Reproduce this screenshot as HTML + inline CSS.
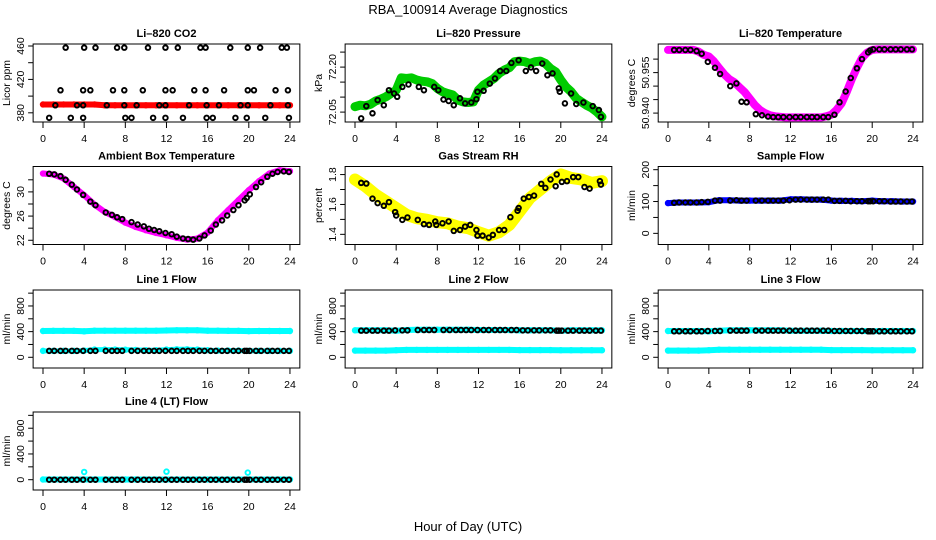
<!DOCTYPE html>
<html><head><meta charset="utf-8">
<style>
html,body{margin:0;padding:0;background:#fff;}
svg{display:block;font-family:"Liberation Sans",sans-serif;}
</style></head>
<body>
<svg id="chart" width="936" height="540" viewBox="0 0 936 540" xmlns="http://www.w3.org/2000/svg">
<text x="468" y="14" text-anchor="middle" font-size="13">RBA_100914  Average Diagnostics</text>
<text x="468" y="531" text-anchor="middle" font-size="13">Hour of Day (UTC)</text>
</svg>
<script>
// ---------- data ----------
const hourlyHours = [0,1,2,3,4,5,6,7,8,9,10,11,12,13,14,15,16,17,18,19,20,21,22,23,24];
const halfHours = [0,0.5,1,1.5,2,2.5,3,3.5,4,4.5,5,5.5,6,6.5,7,7.5,8,8.5,9,9.5,10,10.5,11,11.5,12,12.5,13,13.5,14,14.5,15,15.5,16,16.5,17,17.5,18,18.5,19,19.5,20,20.5,21,21.5,22,22.5,23,23.5,24];
const blackHours = [0.6,1.1,1.7,2.2,2.8,3.3,3.9,4.6,5.1,6.1,6.7,7.2,7.7,8.6,9.2,9.8,10.3,10.8,11.3,11.9,12.5,13.0,13.6,14.1,14.6,15.2,15.7,16.3,16.8,17.4,17.9,18.5,19.0,19.6,19.8,20.1,20.7,21.2,21.8,22.3,22.8,23.4,23.9];

const co2Red = [390,390,390,390,390,390,389,389,389,389,389,389,389,389,389,389,389,389,389,389,389,389,389,389,389];
const co2HighHours = [2.2,4.0,5.1,7.2,7.9,10.2,11.9,13.1,15.3,15.8,18.2,19.9,21.1,23.2,23.7];
const co2HighVals = [458,458,458,458,458,458,458,458,458,458,458,458,458,458,458];
const co2MidHours = [1.7,3.9,4.6,6.8,7.9,9.7,11.9,12.6,14.7,15.8,17.6,19.9,20.5,22.6,23.8];
const co2MidVals = [407,407,407,407,407,407,407,407,407,407,407,407,407,407,407];
const co2BaseHours = [1.2,3.3,3.9,6.2,7.9,9.1,11.3,11.9,14.2,15.9,17.1,19.2,19.9,22.1,23.8];
const co2BaseVals = [389,389,389,389,389,389,389,389,389,389,389,389,389,389,389];
const co2LowHours = [0.6,2.7,3.9,8.0,8.6,10.7,11.9,13.6,15.9,16.5,18.7,19.8,21.6,23.9];
const co2LowVals = [374,374,374,374,374,374,374,374,374,374,374,374,374,374];

const pressGreen = [72.068,72.073,72.071,72.076,72.087,72.093,72.101,72.112,72.123,72.164,72.162,72.164,72.157,72.153,72.151,72.145,72.129,72.118,72.112,72.107,72.090,72.084,72.082,72.084,72.123,72.140,72.151,72.162,72.179,72.190,72.198,72.218,72.220,72.218,72.212,72.218,72.220,72.212,72.195,72.184,72.157,72.134,72.118,72.096,72.084,72.073,72.064,72.051,72.034];
const pressBlackHours = [0.6,1.1,1.7,2.2,2.8,3.3,3.8,4.1,4.6,5.2,6.2,6.7,7.7,8.1,8.6,9.1,9.6,10.2,10.7,11.3,11.8,11.9,12.5,13.1,13.6,14.1,14.7,15.2,15.9,16.6,17.1,17.6,18.2,18.7,19.2,19.8,19.9,20.4,21.0,21.5,22.2,23.1,23.7,23.9];
const pressBlackVals = [72.029,72.070,72.046,72.090,72.073,72.123,72.112,72.101,72.134,72.142,72.134,72.123,72.134,72.123,72.092,72.087,72.073,72.096,72.079,72.082,72.093,72.118,72.121,72.145,72.162,72.187,72.187,72.214,72.223,72.187,72.199,72.187,72.212,72.173,72.179,72.129,72.118,72.079,72.112,72.077,72.082,72.070,72.057,72.034];

const tempMagenta = [50.9634,50.9634,50.9634,50.9634,50.9634,50.9634,50.9628,50.9616,50.9610,50.9592,50.9568,50.9544,50.9526,50.9514,50.9496,50.9478,50.9454,50.9430,50.9412,50.9400,50.9392,50.9388,50.9386,50.9384,50.9384,50.9384,50.9384,50.9384,50.9384,50.9384,50.9384,50.9388,50.9394,50.9412,50.9436,50.9478,50.9526,50.9568,50.9604,50.9624,50.9634,50.9636,50.9636,50.9636,50.9636,50.9636,50.9636,50.9636,50.9636];
const tempBlack = [50.9634,50.9634,50.9634,50.9634,50.9630,50.9620,50.9590,50.9568,50.9545,50.9500,50.9510,50.9442,50.9440,50.9396,50.9392,50.9387,50.9385,50.9385,50.9385,50.9385,50.9385,50.9385,50.9385,50.9385,50.9385,50.9385,50.9385,50.9394,50.9440,50.9480,50.9530,50.9566,50.9600,50.9625,50.9632,50.9636,50.9636,50.9636,50.9636,50.9636,50.9636,50.9636,50.9636];

const ambMagenta = [33.04,32.87,32.21,30.83,29.45,27.91,26.69,25.86,24.93,24.21,23.66,23.21,22.83,22.39,22.11,22.28,23.27,25.31,26.97,28.62,30.28,31.77,33.04,33.59,33.43];
const ambBlack = [33.0,32.9,32.6,32.0,31.2,30.4,29.5,28.4,27.8,26.6,26.2,25.8,25.5,25.0,24.6,24.3,23.9,23.7,23.5,23.2,23.0,22.6,22.3,22.2,22.1,22.3,22.8,23.6,24.6,25.3,26.1,27.0,27.8,28.6,29.0,29.6,30.8,31.6,32.5,33.0,33.3,33.4,33.3];

const rhYellow = [1.767,1.722,1.666,1.621,1.576,1.531,1.508,1.497,1.481,1.474,1.452,1.441,1.414,1.391,1.414,1.463,1.553,1.643,1.699,1.756,1.801,1.778,1.767,1.744,1.756];
const rhBlackHours = [0.6,1.1,1.7,2.2,2.8,3.3,3.9,4.0,4.6,5.1,6.1,6.7,7.2,7.8,7.9,8.5,9.1,9.6,10.2,10.7,11.2,11.8,11.9,12.4,13.0,13.4,14.0,14.5,15.1,15.8,15.9,16.4,16.9,17.4,18.1,18.5,19.0,19.5,19.6,20.1,20.6,21.2,21.7,22.3,22.8,23.8,23.9];
const rhBlackVals = [1.744,1.740,1.639,1.609,1.591,1.616,1.549,1.526,1.497,1.513,1.497,1.468,1.463,1.486,1.463,1.474,1.486,1.423,1.429,1.452,1.463,1.429,1.391,1.391,1.378,1.396,1.429,1.429,1.515,1.558,1.576,1.639,1.650,1.659,1.738,1.711,1.767,1.722,1.801,1.751,1.756,1.783,1.783,1.717,1.706,1.756,1.733];

const sampleBlue = [95,97,97,97,98,104,104,103,103,103,103,103,107,107,106,106,103,102,102,101,103,101,101,100,100];
const sampleBlack = [96,97,97,97,97,98,99,103,103,103,104,103,103,103,103,103,103,103,103,104,106,106,106,106,106,106,106,102,102,102,101,101,101,101,101,101,101,101,100,100,100,100,100];

const line1CyanTop = [410,412,412,412,405,415,415,415,415,415,415,415,418,420,420,420,415,415,412,412,408,410,410,410,410];
const line1CyanBot = [100,100,100,100,105,120,120,120,118,115,110,110,120,125,125,120,110,105,105,105,100,100,100,100,100];
const line1Black = [100,100,100,100,100,100,100,100,100,100,100,100,100,100,100,100,100,100,100,100,100,100,100,100,100,100,100,100,100,100,100,100,100,100,100,100,100,100,100,100,100,100,100];
const line2CyanTop = [420,420,420,420,415,425,430,430,430,430,430,430,425,425,425,425,420,420,420,420,415,420,420,420,420];
const line2CyanBot = [105,105,105,105,110,115,115,115,115,115,115,115,115,115,115,115,112,112,112,112,110,110,110,110,110];
const line2Black = [415,415,415,415,415,415,420,420,420,425,425,425,425,425,425,425,425,425,425,425,425,425,425,425,425,425,425,420,420,420,420,420,420,415,415,415,415,415,415,415,415,415,415];
const line3CyanTop = [410,410,410,410,405,415,420,420,420,420,420,420,415,415,415,415,410,410,410,410,405,410,410,410,410];
const line3CyanBot = [105,105,105,105,110,118,118,118,118,118,118,118,118,118,118,118,112,112,112,112,110,110,110,110,110];
const line3Black = [405,405,405,405,405,405,410,410,410,415,415,415,415,415,415,415,415,415,415,415,415,415,415,415,415,415,415,410,410,410,410,410,410,405,405,405,405,405,405,405,405,405,405];
const line4Cyan = [3,3,3,3,3,3,3,3,3,3,3,3,3,3,3,3,3,3,3,3,3,3,3,3,3];
const line4Black = [0,0,0,0,0,0,0,0,0,0,0,0,0,0,0,0,0,0,0,0,0,0,0,0,0,0,0,0,0,0,0,0,0,0,0,0,0,0,0,0,0,0,0];
const line4SpikeHours = [4.0,12.0,19.9];
const line4SpikeVals = [120,125,110];

const xTicks = [0,4,8,12,16,20,24];

// ---------- drawing ----------
const NS = "http://www.w3.org/2000/svg";
const svg = document.getElementById("chart");
const colX0 = [43,355,668], colK = [10.29,10.29,10.21];
const rowTop = [44,166.5,290,412], PH = 78;

function mk(tag, attrs, parent){
  const e = document.createElementNS(NS, tag);
  for (const k in attrs) e.setAttribute(k, attrs[k]);
  (parent||svg).appendChild(e);
  return e;
}

function panel(cfg){
  const g = mk("g", {});
  
  
  const x0 = colX0[cfg.col], k = colK[cfg.col], top = rowTop[cfg.row];
  const left = x0 - 0.04*24*k, right = x0 + 24*k + 0.04*24*k, bottom = top + PH;
  const xs = h => x0 + h*k;
  const ys = v => top + (cfg.ymax - v)/(cfg.ymax - cfg.ymin)*PH;

  const t = mk("text", {x:(left+right)/2, y: top-7, "text-anchor":"middle", "font-size":11, "font-weight":"bold"}, g);
  t.textContent = cfg.title;
  
  

  (cfg.bands||[]).forEach(b=>{
    const pts = b.h.map((h,i)=>xs(h).toFixed(1)+","+ys(b.v[i]).toFixed(1)).join(" ");
    const pl = mk("polyline", {points:pts, fill:"none", stroke:b.color, "stroke-width":b.w, "stroke-linejoin":"round", "stroke-linecap":"round"}, g);
    
    
    b.h.forEach((h,i)=>{
      const c = mk("circle", {cx:xs(h), cy:ys(b.v[i]), r:2.3, fill:"none", stroke:b.color, "stroke-width":1.8}, g);
      
      
    });
  });
  (cfg.pts||[]).forEach(s=>{
    s.h.forEach((h,i)=>{
      const c = mk("circle", {cx:xs(h), cy:ys(s.v[i]), r:2.3, fill:"none", stroke:s.color, "stroke-width":1.9}, g);
      
      
    });
  });

  const box = mk("rect", {x:left, y:top, width:right-left, height:PH, fill:"none", stroke:"#000", "stroke-width":1}, g);
  
  

  xTicks.forEach(v=>{
    const tk = mk("line", {x1:xs(v), x2:xs(v), y1:bottom, y2:bottom+6, stroke:"#000"}, g);
    
    
    const lb = mk("text", {x:xs(v), y:bottom+20, "text-anchor":"middle", "font-size":10.5}, g);
    lb.textContent = v;
    
    
  });
  cfg.ticks.forEach(v=>{
    const tk = mk("line", {x1:left-5, x2:left, y1:ys(v), y2:ys(v), stroke:"#000"}, g);
    
    
  });
  cfg.labels.forEach(v=>{
    const yy = ys(v), xx = left-12;
    const lb = mk("text", {x:xx, y:yy, "text-anchor":"middle", "dominant-baseline":"central", "font-size":10.5, transform:`rotate(-90 ${xx} ${yy})`}, g);
    lb.textContent = cfg.fmt ? v.toFixed(cfg.fmt) : v;
    
    
  });
  const ty = top + PH/2, tx = left-26;
  const yt = mk("text", {x:tx, y:ty, "text-anchor":"middle", "dominant-baseline":"central", "font-size":10.5, transform:`rotate(-90 ${tx} ${ty})`}, g);
  yt.textContent = cfg.ylab;
  
  
}

panel({name:"co2-panel", col:0,row:0,title:"Li\u2013820 CO2",ylab:"Licor ppm",ymax:462.4,ymin:369,
  ticks:[380,400,420,440,460],labels:[380,420,460],
  bands:[{name:"co2-red-series",h:hourlyHours,v:co2Red,color:"#ff0000",w:6}],
  pts:[{name:"co2-black-high",h:co2HighHours,v:co2HighVals,color:"#000"},{name:"co2-black-mid",h:co2MidHours,v:co2MidVals,color:"#000"},
       {name:"co2-black-base",h:co2BaseHours,v:co2BaseVals,color:"#000"},{name:"co2-black-low",h:co2LowHours,v:co2LowVals,color:"#000"}]});
panel({name:"pressure-panel", col:1,row:0,title:"Li\u2013820 Pressure",ylab:"kPa",ymax:72.277,ymin:72.017,fmt:2,
  ticks:[72.05,72.10,72.15,72.20,72.25],labels:[72.05,72.20],
  bands:[{name:"pressure-green-series",h:halfHours,v:pressGreen,color:"#00cc00",w:9}],
  pts:[{name:"pressure-black-point",h:pressBlackHours,v:pressBlackVals,color:"#000"}]});
panel({name:"temperature-panel", col:2,row:0,title:"Li\u2013820 Temperature",ylab:"degrees C",ymax:50.9656,ymin:50.9367,fmt:3,
  ticks:[50.940,50.945,50.950,50.955,50.960],labels:[50.940,50.955],
  bands:[{name:"temperature-magenta-series",h:halfHours,v:tempMagenta,color:"#ff00ff",w:8}],
  pts:[{name:"temperature-black-point",h:blackHours,v:tempBlack,color:"#000"}]});
panel({name:"ambient-panel", col:0,row:1,title:"Ambient Box Temperature",ylab:"degrees C",ymax:34.2,ymin:21.3,
  ticks:[22,24,26,28,30,32],labels:[22,26,30],
  bands:[{name:"ambient-magenta-series",h:hourlyHours,v:ambMagenta,color:"#ff00ff",w:6}],
  pts:[{name:"ambient-black-point",h:blackHours,v:ambBlack,color:"#000"}]});
panel({name:"rh-panel", col:1,row:1,title:"Gas Stream RH",ylab:"percent",ymax:1.854,ymin:1.332,fmt:1,
  ticks:[1.4,1.5,1.6,1.7,1.8],labels:[1.4,1.6,1.8],
  bands:[{name:"rh-yellow-series",h:hourlyHours,v:rhYellow,color:"#ffff00",w:12}],
  pts:[{name:"rh-black-point",h:rhBlackHours,v:rhBlackVals,color:"#000"}]});
panel({name:"sample-flow-panel", col:2,row:1,title:"Sample Flow",ylab:"ml/min",ymax:210,ymin:-35,
  ticks:[0,50,100,150,200],labels:[0,100,200],
  bands:[{name:"sample-blue-series",h:hourlyHours,v:sampleBlue,color:"#0000ff",w:6}],
  pts:[{name:"sample-black-point",h:blackHours,v:sampleBlack,color:"#000"}]});
const flowTicks=[0,200,400,600,800,1000], flowLabels=[0,400,800];
panel({name:"line1-flow-panel", col:0,row:2,title:"Line 1 Flow",ylab:"ml/min",ymax:1049,ymin:-167,ticks:flowTicks,labels:flowLabels,
  bands:[{name:"line1-cyan-top",h:hourlyHours,v:line1CyanTop,color:"#00ffff",w:6},{name:"line1-cyan-bottom",h:hourlyHours,v:line1CyanBot,color:"#00ffff",w:5}],
  pts:[{name:"line1-black-point",h:blackHours,v:line1Black,color:"#000"}]});
panel({name:"line2-flow-panel", col:1,row:2,title:"Line 2 Flow",ylab:"ml/min",ymax:1049,ymin:-167,ticks:flowTicks,labels:flowLabels,
  bands:[{name:"line2-cyan-top",h:hourlyHours,v:line2CyanTop,color:"#00ffff",w:6},{name:"line2-cyan-bottom",h:hourlyHours,v:line2CyanBot,color:"#00ffff",w:6}],
  pts:[{name:"line2-black-point",h:blackHours,v:line2Black,color:"#000"}]});
panel({name:"line3-flow-panel", col:2,row:2,title:"Line 3 Flow",ylab:"ml/min",ymax:1049,ymin:-167,ticks:flowTicks,labels:flowLabels,
  bands:[{name:"line3-cyan-top",h:hourlyHours,v:line3CyanTop,color:"#00ffff",w:6},{name:"line3-cyan-bottom",h:hourlyHours,v:line3CyanBot,color:"#00ffff",w:6}],
  pts:[{name:"line3-black-point",h:blackHours,v:line3Black,color:"#000"}]});
panel({name:"line4-flow-panel", col:0,row:3,title:"Line 4 (LT) Flow",ylab:"ml/min",ymax:1052,ymin:-160,ticks:flowTicks,labels:flowLabels,
  bands:[{name:"line4-cyan-series",h:hourlyHours,v:line4Cyan,color:"#00ffff",w:6}],
  pts:[{name:"line4-black-point",h:blackHours,v:line4Black,color:"#000"},{name:"line4-cyan-spike",h:line4SpikeHours,v:line4SpikeVals,color:"#00ffff"}]});
</script>
</body></html>
